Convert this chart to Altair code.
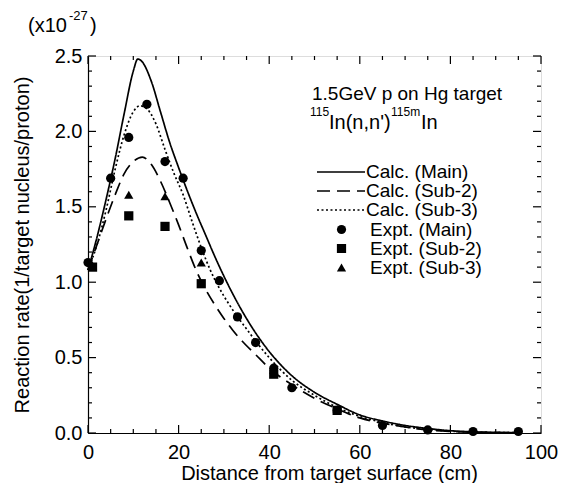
import altair as alt
import pandas as pd

# ---------------- data ----------------
calc_x_main = [0, 2, 4, 6, 8, 10, 11, 12, 14, 16, 18, 20, 22, 24, 26, 28, 30, 32, 34, 36, 38, 40, 42, 45, 50, 55, 60, 65, 70, 75, 80, 85, 90, 95]
calc_y_main = [1.08, 1.30, 1.55, 1.82, 2.12, 2.40, 2.48, 2.46, 2.33, 2.13, 1.93, 1.76, 1.60, 1.45, 1.31, 1.17, 1.04, 0.92, 0.81, 0.71, 0.62, 0.54, 0.47, 0.38, 0.27, 0.19, 0.12, 0.08, 0.05, 0.03, 0.015, 0.008, 0.004, 0.002]

calc_x_sub2 = [0, 2, 4, 6, 8, 10, 12, 14, 16, 18, 20, 22, 24, 26, 28, 30, 32, 34, 37, 40, 45, 50, 55, 60, 65, 70, 75, 80, 85, 90, 95]
calc_y_sub2 = [1.08, 1.25, 1.42, 1.58, 1.72, 1.80, 1.83, 1.78, 1.67, 1.53, 1.38, 1.22, 1.07, 0.95, 0.85, 0.76, 0.68, 0.61, 0.52, 0.43, 0.32, 0.23, 0.16, 0.10, 0.065, 0.04, 0.02, 0.01, 0.005, 0.003, 0.002]

calc_x_sub3 = [0, 2, 4, 6, 8, 10, 11.5, 13, 15, 17, 19, 21, 23, 25, 27, 29, 31, 33, 35, 37, 40, 45, 50, 55, 60, 65, 70, 75, 80, 85, 90, 95]
calc_y_sub3 = [1.08, 1.25, 1.48, 1.75, 1.98, 2.13, 2.17, 2.15, 2.05, 1.88, 1.72, 1.58, 1.40, 1.23, 1.08, 0.96, 0.86, 0.77, 0.69, 0.61, 0.50, 0.35, 0.25, 0.17, 0.11, 0.07, 0.04, 0.025, 0.012, 0.006, 0.003, 0.002]

expt_x_main = [0, 5, 9, 13, 17, 21, 25, 29, 33, 37, 41, 45, 55, 65, 75, 85, 95]
expt_y_main = [1.13, 1.69, 1.96, 2.18, 1.80, 1.69, 1.21, 1.01, 0.77, 0.60, 0.43, 0.30, 0.15, 0.05, 0.02, 0.01, 0.01]

expt_x_sub2 = [1, 9, 17, 25, 41, 55]
expt_y_sub2 = [1.10, 1.44, 1.37, 0.99, 0.39, 0.15]

expt_x_sub3 = [1, 9, 17, 25, 41, 55]
expt_y_sub3 = [1.11, 1.58, 1.57, 1.13, 0.42, 0.16]

calc_names = ["Calc. (Main)", "Calc. (Sub-2)", "Calc. (Sub-3)"]
expt_names = ["Expt. (Main)", "Expt. (Sub-2)", "Expt. (Sub-3)"]

x_major = [0, 20, 40, 60, 80, 100]
x_minor = [5, 10, 15, 25, 30, 35, 45, 50, 55, 65, 70, 75, 85, 90, 95]
y_major = [0.0, 0.5, 1.0, 1.5, 2.0, 2.5]
y_minor = [0.1, 0.2, 0.3, 0.4, 0.6, 0.7, 0.8, 0.9, 1.1, 1.2, 1.3, 1.4, 1.6, 1.7, 1.8, 1.9, 2.1, 2.2, 2.3, 2.4]

# ---------------- tables ----------------
calc_df = pd.concat([
    pd.DataFrame({"x": calc_x_main, "y": calc_y_main, "series": calc_names[0]}),
    pd.DataFrame({"x": calc_x_sub2, "y": calc_y_sub2, "series": calc_names[1]}),
    pd.DataFrame({"x": calc_x_sub3, "y": calc_y_sub3, "series": calc_names[2]}),
])
expt_df = pd.concat([
    pd.DataFrame({"x": expt_x_main, "y": expt_y_main, "kind": expt_names[0]}),
    pd.DataFrame({"x": expt_x_sub2, "y": expt_y_sub2, "kind": expt_names[1]}),
    pd.DataFrame({"x": expt_x_sub3, "y": expt_y_sub3, "kind": expt_names[2]}),
])

W, H = 453, 377
FONT = "Liberation Sans"

xscale = alt.Scale(domain=[0, 100], nice=False, zero=False)
yscale = alt.Scale(domain=[0, 2.5], nice=False)

xaxis = alt.Axis(values=x_major, ticks=False, grid=False, labelFontSize=20, labelFont=FONT,
                 labelColor="black", labelPadding=9, domainColor="black", domainWidth=1.2,
                 title="Distance from target surface (cm)", titleFontSize=20, titleFont=FONT,
                 titleFontWeight="normal", titleColor="black", titlePadding=1, titleX=241,
                 labelFlush=False)
yaxis = alt.Axis(values=y_major, format=".1f", ticks=False, grid=False, labelFontSize=20,
                 labelFont=FONT, labelColor="black", labelPadding=6, domainColor="black",
                 domainWidth=1.2, title="Reaction rate(1/target nucleus/proton)", titleFontSize=20,
                 titleFont=FONT, titleFontWeight="normal", titleColor="black", titlePadding=22,
                 labelFlush=False)

lines = alt.Chart(calc_df).mark_line(color="black", strokeWidth=1.7, interpolate="monotone").encode(
    x=alt.X("x:Q", scale=xscale, axis=xaxis),
    y=alt.Y("y:Q", scale=yscale, axis=yaxis),
    strokeDash=alt.StrokeDash(
        "series:N",
        scale=alt.Scale(domain=calc_names, range=[[1, 0], [13, 7], [2, 2.5]]),
        legend=alt.Legend(orient="none", legendX=228, legendY=107, title=None,
                          symbolType="stroke", symbolSize=2304, symbolStrokeWidth=1.6,
                          symbolStrokeColor="black", labelFont=FONT, labelFontSize=19,
                          labelColor="black", labelOffset=0, clipHeight=18, rowPadding=0,
                          padding=0, labelLimit=300),
    ),
    detail="series:N",
)

points = alt.Chart(expt_df).mark_point(filled=True, color="black", size=85, opacity=1).encode(
    x=alt.X("x:Q", scale=xscale),
    y=alt.Y("y:Q", scale=yscale),
    shape=alt.Shape(
        "kind:N",
        scale=alt.Scale(domain=expt_names, range=["circle", "square", "triangle-up"]),
        legend=alt.Legend(orient="none", legendX=244, legendY=164.5, title=None,
                          symbolFillColor="black", symbolStrokeColor="black", symbolSize=85,
                          symbolOpacity=1, labelFont=FONT, labelFontSize=19, labelColor="black",
                          labelOffset=19, clipHeight=18, rowPadding=0, padding=0, labelLimit=300),
    ),
)


def tick_layer(vals, field, side, length):
    df = pd.DataFrame({field: vals})
    base = alt.Chart(df).mark_rule(color="black", strokeWidth=1.2)
    if field == "x":
        enc = dict(x=alt.X("x:Q", scale=xscale))
        if side == "bottom":
            enc.update(y=alt.value(H), y2=alt.value(H - length))
        else:
            enc.update(y=alt.value(0), y2=alt.value(length))
    else:
        enc = dict(y=alt.Y("y:Q", scale=yscale))
        if side == "left":
            enc.update(x=alt.value(0), x2=alt.value(length))
        else:
            enc.update(x=alt.value(W), x2=alt.value(W - length))
    return base.encode(**enc)


ticks = [
    tick_layer(x_major, "x", "bottom", 8), tick_layer(x_minor, "x", "bottom", 4),
    tick_layer(x_major, "x", "top", 8), tick_layer(x_minor, "x", "top", 4),
    tick_layer(y_major, "y", "left", 8), tick_layer(y_minor, "y", "left", 4),
    tick_layer(y_major, "y", "right", 8), tick_layer(y_minor, "y", "right", 4),
]


def label(text, x, y, size, align="left", baseline="alphabetic"):
    return alt.Chart(pd.DataFrame({"t": [text]})).mark_text(
        font=FONT, fontSize=size, color="black", align=align, baseline=baseline
    ).encode(text="t:N", x=alt.value(x), y=alt.value(y))


annotations = [
    label("(x10", -60, -24, 20),
    label("-27", -19, -36, 13),
    label(")", 2, -24, 20),
    label("1.5GeV p on Hg target", 224, 44, 19),
    label("115", 222, 60, 12),
    label("In(n,n')", 241, 73, 20),
    label("115m", 303, 60, 12),
    label("In", 333, 73, 20),
]

chart = alt.layer(lines, points, *ticks, *annotations).resolve_scale(
    strokeDash="independent", shape="independent"
).properties(
    width=W, height=H,
    autosize=alt.AutoSizeParams(type="none"),
    padding={"left": 80, "top": 48, "right": 17, "bottom": 50},
).configure_view(stroke="black", strokeWidth=1.2).configure(background="white")

chart.save("out.html", embed_options={"renderer": "svg", "actions": False})
